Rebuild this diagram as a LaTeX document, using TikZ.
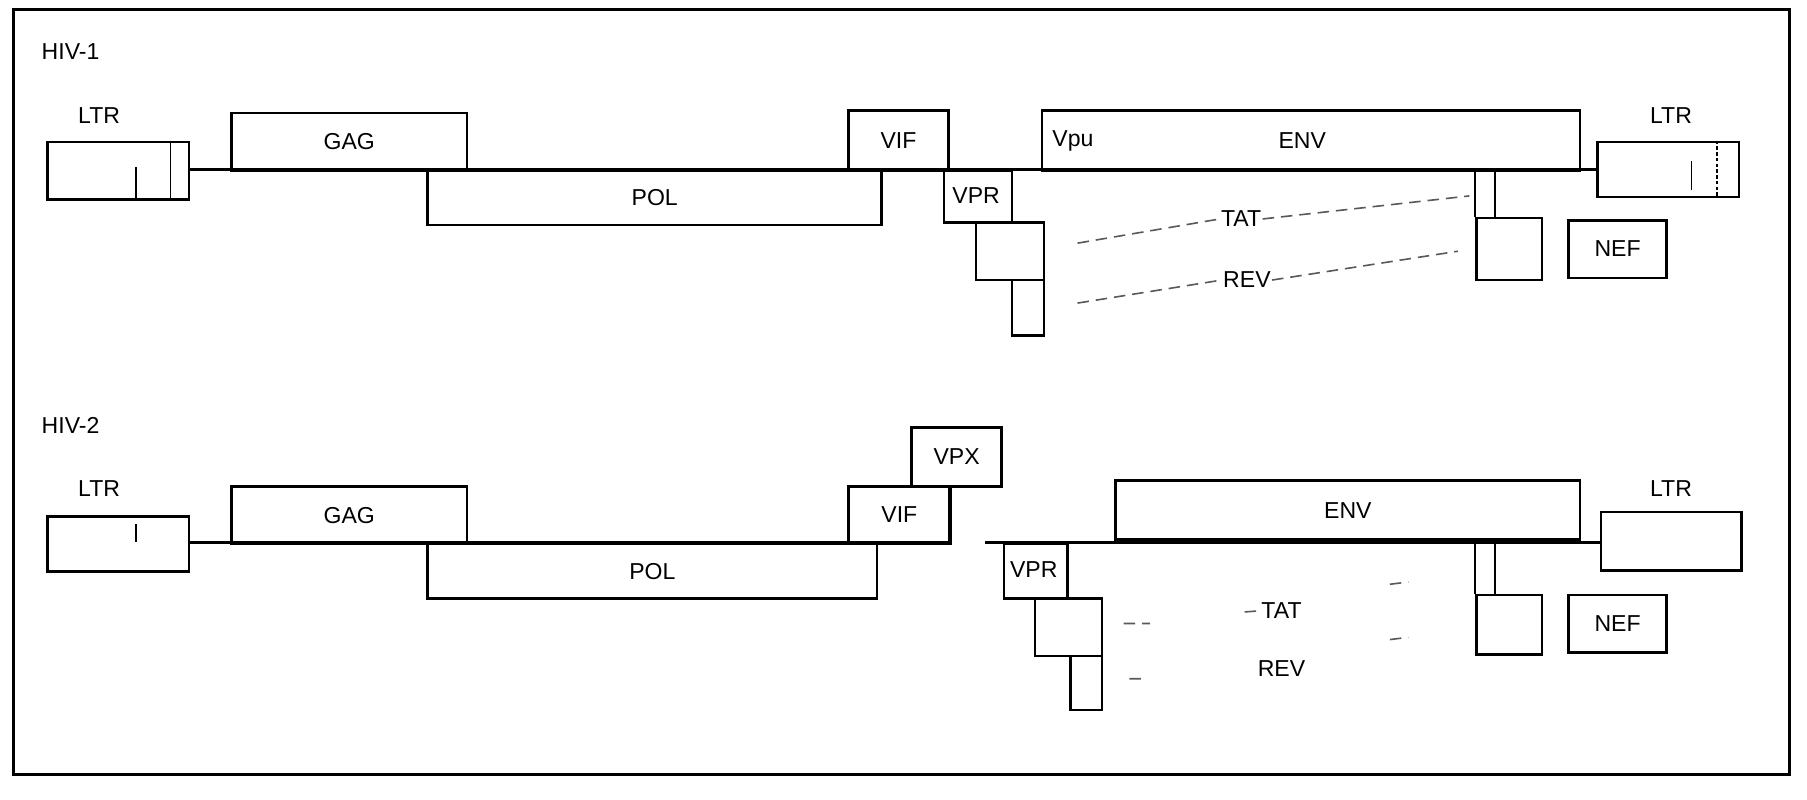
\documentclass[tikz,border=0pt]{standalone}
\usepackage{fontspec}
\setmainfont{Liberation Sans}
\begin{document}
\begin{tikzpicture}[x=1pt,y=-1pt,
  box/.style={draw,line width=2.2pt,anchor=north west,inner sep=0pt,font=\fontsize{20}{20}\selectfont},
  lbl/.style={font=\fontsize{20}{20}\selectfont,inner sep=1pt},
  bb/.style={line width=2.4pt},
  dsh/.style={line width=1.4pt,dash pattern=on 10pt off 6pt,gray!70!black}]
\useasboundingbox (0,0) rectangle (1568,694);
\draw[line width=2.4pt] (12,8) rectangle (1553,672);
% ---------- HIV-1
\node[lbl,anchor=west] (h1) at (35,45) {HIV-1};
\draw[bb] (163,147) -- (1385,147);
\node[box,minimum width=123pt,minimum height=50pt] (ltrA) at (40,122) {};
\draw[line width=1.2pt] (148,122) -- (148,172) (118,145) -- (118,172);
\node[lbl] (ltrAl) at (86,100) {LTR};
\node[box,minimum width=204pt,minimum height=50pt] (gagA) at (200,97) {GAG};
\node[box,minimum width=394pt,minimum height=47pt] (polA) at (370,147) {POL};
\node[box,minimum width=87pt,minimum height=52pt] (vifA) at (735,95) {VIF};
\node[box,minimum width=59pt,minimum height=45pt] (vprA) at (818,147) {};
\node[lbl] at (847,170) {VPR};
\node[box,minimum width=59pt,minimum height=50pt] (tatA) at (846,192) {};
\node[box,minimum width=28pt,minimum height=48pt] (revA) at (877,242) {};
\node[box,minimum width=467pt,minimum height=52pt] (envA) at (903,95) {};
\node[lbl,anchor=west] (vpuA) at (912,122) {Vpu};
\node[lbl] (envAl) at (1130,122) {ENV};
\node[box,minimum width=123pt,minimum height=48pt] (ltrB) at (1385,122) {};
\draw[line width=1.2pt,densely dashed] (1490,122) -- (1490,170);
\draw[line width=1pt] (1468,140) -- (1468,165);
\node[lbl] (ltrBl) at (1450,100) {LTR};
\node[box,minimum width=57pt,minimum height=54pt] (tat2A) at (1280,188) {};
\draw[line width=1.6pt] (1280,147) -- (tat2A.north west) (1297,147) -- (1297,188);
\node[box,minimum width=85pt,minimum height=50pt] (nefA) at (1360,190) {NEF};
\node[lbl] (tatAl) at (1077,190) {TAT};
\node[lbl] (revAl) at (1082,243) {REV};
\draw[dsh] (935,211) -- (tatAl.west);
\draw[dsh] (tatAl.east) -- (1275,170);
\draw[dsh] (935,263) -- (revAl.west);
\draw[dsh] (revAl.east) -- (1265,218);
% ---------- HIV-2
\node[lbl,anchor=west] (h2) at (35,369) {HIV-2};
\draw[bb] (163,471) -- (823,471) (855,471) -- (1388,471);
\node[box,minimum width=123pt,minimum height=48pt] (ltrC) at (40,447) {};
\draw[line width=1.2pt] (118,455) -- (118,470);
\node[lbl] (ltrCl) at (86,424) {LTR};
\node[box,minimum width=204pt,minimum height=50pt] (gagC) at (200,421) {GAG};
\node[box,minimum width=390pt,minimum height=47pt] (polC) at (370,471) {POL};
\node[box,line width=2.8pt,minimum width=88pt,minimum height=49pt] (vifC) at (735,421) {VIF};
\node[box,minimum width=78pt,minimum height=51pt] (vpxC) at (790,370) {VPX};
\node[box,minimum width=55pt,minimum height=47pt] (vprC) at (870,471) {};
\node[lbl] at (897,494) {VPR};
\node[box,minimum width=58pt,minimum height=50pt] (tatC) at (897,518) {};
\node[box,minimum width=27pt,minimum height=47pt] (revC) at (928,568) {};
\node[box,minimum width=403pt,minimum height=51pt] (envC) at (967,416) {ENV};
\node[box,minimum width=122pt,minimum height=51pt] (ltrD) at (1388,443) {};
\node[lbl] (ltrDl) at (1450,424) {LTR};
\node[box,minimum width=57pt,minimum height=52pt] (tat2C) at (1280,515) {};
\draw[line width=1.6pt] (1280,471) -- (tat2C.north west) (1297,471) -- (1297,515);
\node[box,minimum width=85pt,minimum height=50pt] (nefC) at (1360,515) {NEF};
\node[lbl] (tatCl) at (1112,530) {TAT};
\node[lbl] (revCl) at (1112,580) {REV};
\coordinate (t1) at (975,541); \coordinate (t2) at (998,541);
\coordinate (t3) at (1206,507); \coordinate (t4) at (1222,505);
\coordinate (t5) at (1206,555); \coordinate (t6) at (1222,553);
\coordinate (r1) at (980,589); \coordinate (r2) at (990,589);
\draw[dsh] (t1) -- (t2) (t3) -- (t4) (t5) -- (t6) (r1) -- (r2);
\draw[dsh] (1080,531) -- (tatCl.west);
\end{tikzpicture}
\end{document}
